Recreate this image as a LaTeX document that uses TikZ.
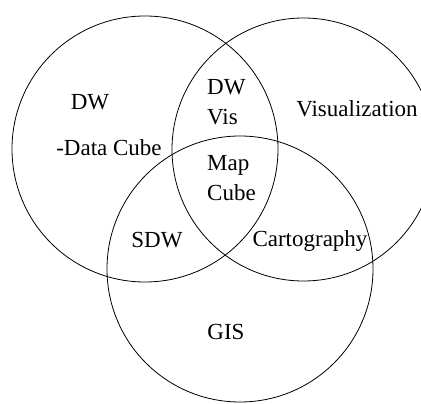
\documentclass[tikz,border=0pt]{standalone}
\usepackage{fontspec}
\setmainfont{Liberation Serif}
\usetikzlibrary{positioning}

\tikzset{
    setlabel/.style={inner sep=0pt, font=\fontsize{23}{30}\selectfont, align=left},
    setring/.style={line width=0.8pt}
}

\begin{document}
\begin{tikzpicture}[x=1pt, y=-1pt]
    \useasboundingbox (0,0) rectangle (421,404);

    % three sets
    \coordinate (DWc)  at (145, 149);
    \coordinate (VISc) at (303.5, 149.5);
    \coordinate (GISc) at (240, 269);
    \draw[setring] (DWc)  circle (133pt);
    \draw[setring] (VISc) circle (131.5pt);
    \draw[setring] (GISc) circle (133pt);

    % labels
    \node[setlabel] (dw)    at (90, 102)  {DW};
    \node[setlabel] (cube)  at (109, 148) {-Data Cube};
    \node[setlabel, anchor=west] (dwvis) at (207, 102) {DW\\Vis};
    \node[setlabel, anchor=west] (map)   at (207, 178) {Map\\Cube};
    \node[setlabel] (vis)   at (357, 109) {Visualization};
    \node[setlabel] (sdw)   at (157, 240) {SDW};
    \node[setlabel] (carto) at (310, 241) {Cartography};
    \node[setlabel] (gis)   at (226, 332) {GIS};
\end{tikzpicture}
\end{document}
